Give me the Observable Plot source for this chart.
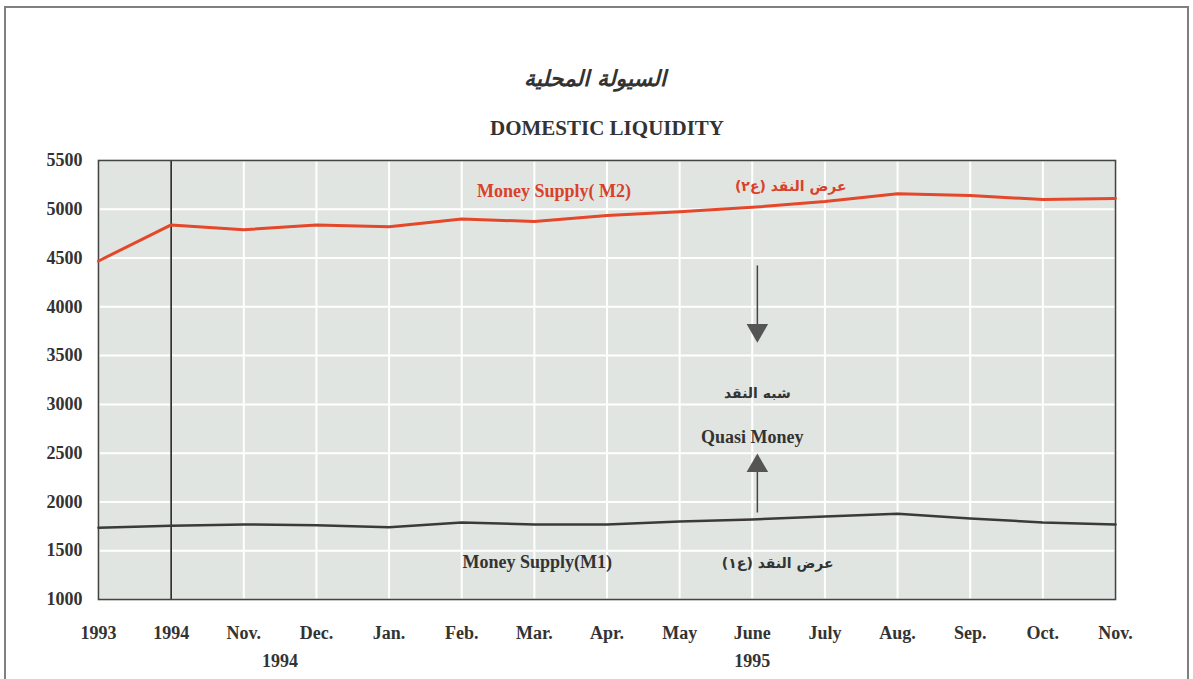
<!DOCTYPE html>
<html>
<head>
<meta charset="utf-8">
<script src="https://cdn.jsdelivr.net/npm/d3@7"></script>
<script src="https://cdn.jsdelivr.net/npm/@observablehq/plot@0.6"></script>
<style>
  html, body { margin: 0; padding: 0; background: #fff; overflow: hidden; }
  #frame { position: absolute; left: 4px; top: 6px; width: 1185px; height: 720px; border: 2px solid #808080; box-sizing: border-box; }
  #chart { position: absolute; left: 0; top: 0; }
</style>
</head>
<body>
<div id="frame"></div>
<div id="chart"></div>
<script>
// Category labels (x axis)
const monthLabels = ["1993","1994","Nov.","Dec.","Jan.","Feb.","Mar.","Apr.","May","June","July","Aug.","Sep.","Oct.","Nov."];
// Series values
const m2Values = [4470,4840,4790,4840,4820,4900,4875,4935,4975,5020,5080,5160,5140,5100,5110];
const m1Values = [1735,1755,1770,1760,1740,1790,1770,1770,1800,1820,1850,1880,1830,1790,1770];
// Y ticks
const yTicks = [1000,1500,2000,2500,3000,3500,4000,4500,5000,5500];
// Year sub-labels under the axis
const yearLabels = [{i: 2.5, label: "1994"}, {i: 9, label: "1995"}];

const serif = "'Liberation Serif', 'Times New Roman', serif";
const arabic = "'DejaVu Sans', sans-serif";

const idx = d3.range(monthLabels.length);
const m2 = idx.map(i => ({i, v: m2Values[i]}));
const m1 = idx.map(i => ({i, v: m1Values[i]}));

const chart = Plot.plot({
  width: 1193,
  height: 679,
  marginLeft: 98,
  marginRight: 78,
  marginTop: 160,
  marginBottom: 80,
  style: {fontFamily: serif, fontWeight: "bold", background: "transparent"},
  x: {type: "linear", domain: [0, monthLabels.length - 1]},
  y: {type: "linear", domain: [1000, 5500]},
  marks: [
    Plot.frame({fill: "#e1e5e1"}),
    Plot.gridX(idx, {stroke: "#ffffff", strokeOpacity: 1, strokeWidth: 2}),
    Plot.gridY(yTicks, {stroke: "#ffffff", strokeOpacity: 1, strokeWidth: 2}),
    Plot.ruleX([1], {stroke: "#222", strokeWidth: 1.6}),
    Plot.frame({stroke: "#444", strokeWidth: 1.6}),
    Plot.axisY({ticks: yTicks, tickSize: 0, tickPadding: 16, fontSize: 18, fontWeight: "bold", fill: "#333", tickFormat: d => String(d)}),
    Plot.axisX({ticks: idx, tickSize: 0, tickPadding: 27, fontSize: 18, fontWeight: "bold", fill: "#333", tickFormat: i => monthLabels[i]}),
    Plot.text(yearLabels, {x: "i", text: "label", frameAnchor: "bottom", dy: 67, fontSize: 18, fontWeight: "bold", fill: "#333"}),
    Plot.line(m2, {x: "i", y: "v", stroke: "#e4472a", strokeWidth: 3}),
    Plot.line(m1, {x: "i", y: "v", stroke: "#3a3a3a", strokeWidth: 2.5}),
    // series labels
    Plot.text(["Money Supply( M2)"], {x: 6.27, y: 5182, text: d => d, fontSize: 18, fontWeight: "bold", fill: "#d9412a"}),
    Plot.text(["عرض النقد (ع٢)"], {x: 9.53, y: 5234, text: d => d, fontSize: 14, fontFamily: arabic, fontWeight: "bold", fill: "#d9412a"}),
    Plot.text(["Money Supply(M1)"], {x: 6.04, y: 1379, text: d => d, fontSize: 18, fontWeight: "bold", fill: "#333"}),
    Plot.text(["عرض النقد (ع١)"], {x: 9.35, y: 1369, text: d => d, fontSize: 14, fontFamily: arabic, fontWeight: "bold", fill: "#333"}),
    Plot.text(["شبه النقد"], {x: 9.07, y: 3112, text: d => d, fontSize: 14, fontFamily: arabic, fontWeight: "bold", fill: "#333"}),
    Plot.text(["Quasi Money"], {x: 9.0, y: 2661, text: d => d, fontSize: 18, fontWeight: "bold", fill: "#333"}),
    // arrows
    Plot.link([{x: 9.07, y1: 4424, y2: 3800}], {x1: "x", x2: "x", y1: "y1", y2: "y2", stroke: "#444", strokeWidth: 1.5}),
    Plot.dot([{x: 9.07, y: 3760}], {x: "x", y: "y", symbol: "triangle", r: 8, fill: "#555", stroke: "none", rotate: 180}),
    Plot.link([{x: 9.07, y1: 1892, y2: 2330}], {x1: "x", x2: "x", y1: "y1", y2: "y2", stroke: "#444", strokeWidth: 1.5}),
    Plot.dot([{x: 9.07, y: 2370}], {x: "x", y: "y", symbol: "triangle", r: 8, fill: "#555", stroke: "none"}),
    // titles
    Plot.text(["السيولة المحلية"], {frameAnchor: "top", dy: -90, dx: -12, text: d => d, fontSize: 22, fontFamily: arabic, fontStyle: "italic", fontWeight: "bold", fill: "#333"}),
    Plot.text(["DOMESTIC LIQUIDITY"], {frameAnchor: "top", dy: -40, text: d => d, fontSize: 21, fontWeight: "bold", fill: "#333"})
  ]
});
document.getElementById("chart").appendChild(chart);
</script>
</body>
</html>
